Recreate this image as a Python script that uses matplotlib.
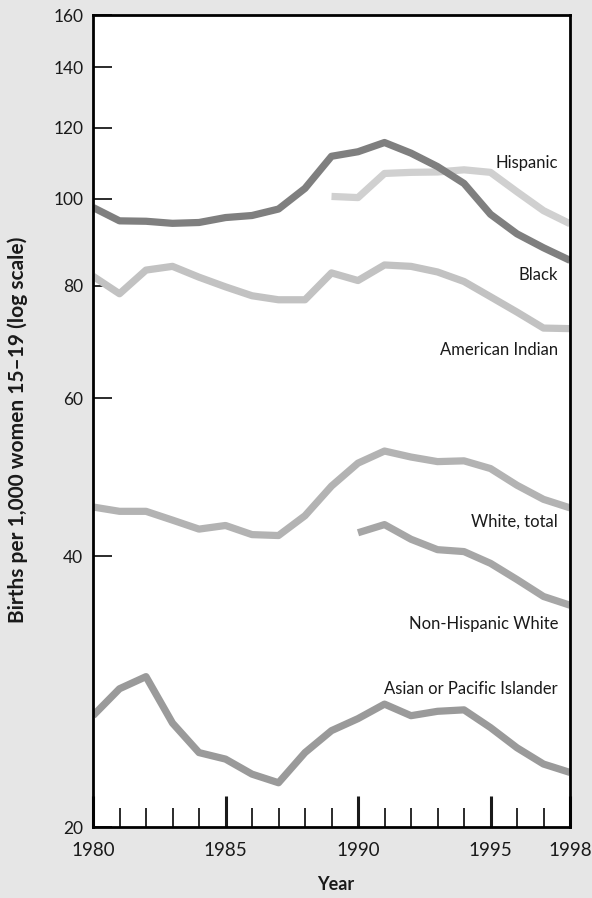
import matplotlib
matplotlib.use("Agg")
import matplotlib.pyplot as plt
from matplotlib.ticker import FixedLocator, NullLocator

plt.rcParams['font.family'] = ['Lato', 'DejaVu Sans']

# Teen birth rates, births per 1,000 women aged 15-19
years = list(range(1980, 1999))
years_from_1989 = list(range(1989, 1999))
years_from_1990 = list(range(1990, 1999))

black = [97.8, 94.5, 94.4, 93.9, 94.1, 95.3, 95.8, 97.4, 102.7, 111.5,
         112.8, 115.5, 112.4, 108.6, 104.0, 96.1, 91.4, 88.2, 85.4]
hispanic = [100.6, 100.3, 106.7, 107.0, 107.1, 107.7, 107.0, 101.8, 97.0, 93.8]
american_indian = [82.0, 78.4, 83.3, 84.1, 81.8, 79.8, 78.0, 77.2, 77.2, 82.7,
                   81.1, 84.4, 84.1, 82.9, 80.9, 77.8, 74.8, 71.8, 71.7]
white_total = [45.4, 44.9, 44.9, 43.9, 42.9, 43.3, 42.3, 42.2, 44.4, 47.9,
               50.8, 52.4, 51.6, 51.0, 51.1, 50.1, 48.0, 46.3, 45.3]
non_hispanic_white = [42.5, 43.4, 41.8, 40.7, 40.5, 39.3, 37.7, 36.1, 35.3]
asian_pi = [26.6, 28.5, 29.4, 26.1, 24.2, 23.8, 22.9, 22.4, 24.2, 25.6,
            26.4, 27.4, 26.6, 26.9, 27.0, 25.8, 24.5, 23.5, 23.0]

y_ticks = [20, 40, 60, 80, 100, 120, 140, 160]
x_ticks = [1980, 1985, 1990, 1995, 1998]

series = [
    ("Hispanic", years_from_1989, hispanic, "#d0d0d0", 108.3),
    ("Black", years, black, "#7f7f7f", 81.3),
    ("American Indian", years, american_indian, "#c2c2c2", 67.0),
    ("White, total", years, white_total, "#b3b3b3", 43.2),
    ("Non-Hispanic White", years_from_1990, non_hispanic_white, "#a6a6a6", 33.2),
    ("Asian or Pacific Islander", years, asian_pi, "#9a9a9a", 28.1),
]

W, H = 592, 898
fig = plt.figure(figsize=(W / 100, H / 100), dpi=100)
fig.patch.set_facecolor("#e6e6e6")

left, right, top, bottom = 93, 570, 15.3, 827
ax = fig.add_axes([left / W, 1 - bottom / H, (right - left) / W, (bottom - top) / H])
ax.set_facecolor("white")

text_color = "#1a1a1a"
label_x = 1997.55

for name, xs, ys, color, label_y in series:
    ax.plot(xs, ys, color=color, lw=5.2, solid_capstyle="butt",
            solid_joinstyle="round", zorder=2)
    ax.text(label_x, label_y, name, ha="right", va="baseline",
            fontsize=12, color=text_color, zorder=3)

ax.set_yscale("log")
ax.set_ylim(20, 160)
ax.set_xlim(1980, 1998)

ax.yaxis.set_major_locator(FixedLocator(y_ticks))
ax.yaxis.set_minor_locator(NullLocator())
ax.set_yticklabels([str(v) for v in y_ticks])

ax.xaxis.set_major_locator(FixedLocator(x_ticks))
ax.xaxis.set_minor_locator(FixedLocator(years))
ax.set_xticklabels([str(v) for v in x_ticks])

ax.tick_params(axis="y", which="major", direction="in", length=14, width=1.3,
               pad=7, labelsize=12.5, colors=text_color)
ax.tick_params(axis="x", which="major", direction="in", length=22, width=2.2,
               pad=11, labelsize=13.5, colors=text_color)
ax.tick_params(axis="x", which="minor", direction="in", length=14, width=1.3,
               colors=text_color)

for side in ["left", "right", "top", "bottom"]:
    ax.spines[side].set_linewidth(2.0)
    ax.spines[side].set_color("black")
    ax.spines[side].set_zorder(4)

fig.text(18 / W, 1 - 430 / H, "Births per 1,000 women 15\u201319 (log scale)",
         rotation=90, ha="center", va="center", fontsize=15,
         fontweight="bold", color=text_color)
fig.text(336 / W, 1 - 884 / H, "Year", ha="center", va="center",
         fontsize=13, fontweight="bold", color=text_color)

fig.savefig("out.png", dpi=100, facecolor=fig.get_facecolor())
